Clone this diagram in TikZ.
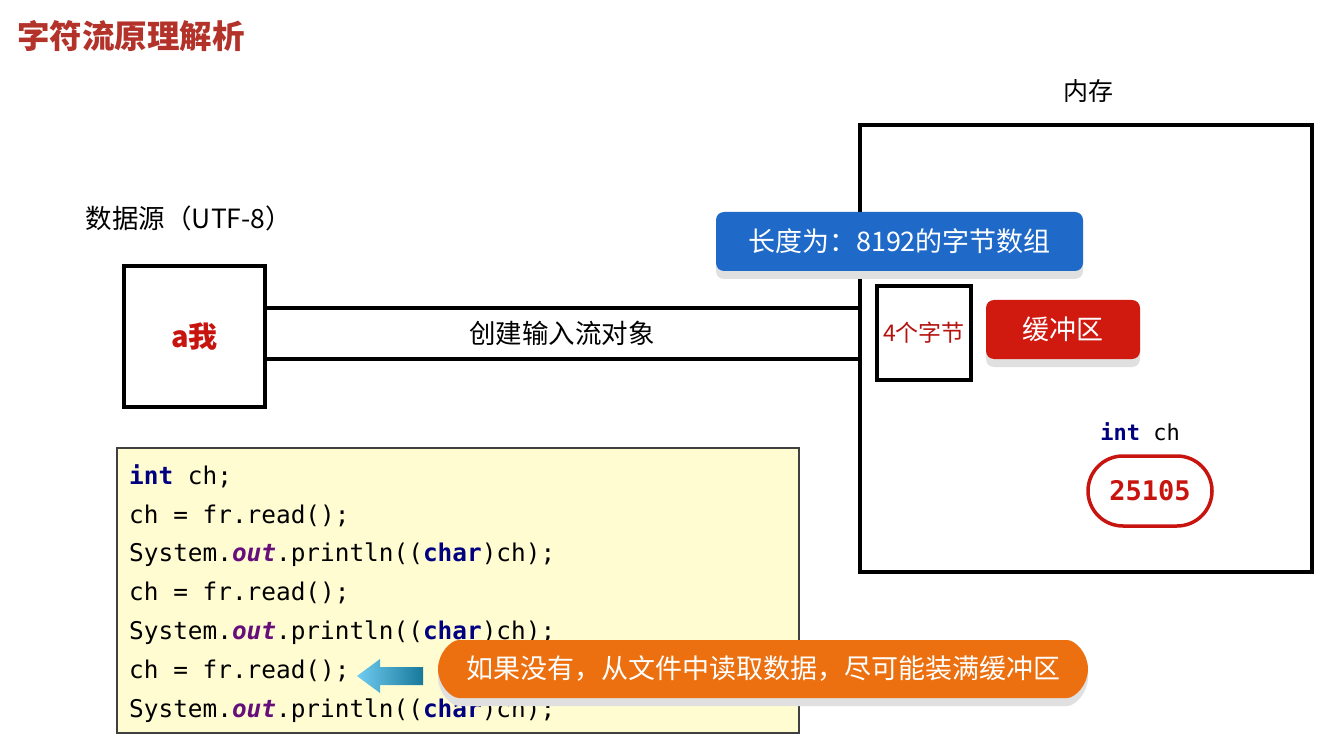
\documentclass[tikz,border=0pt]{standalone}
\usepackage{fontspec}
\setmainfont{Noto Sans CJK SC}
\setmonofont{DejaVu Sans Mono}
\usetikzlibrary{positioning,shapes.misc,shadows}

\definecolor{titlered}{HTML}{B3322A}
\definecolor{textred}{HTML}{C8140F}
\definecolor{tagblue}{HTML}{1F69C8}
\definecolor{tagred}{HTML}{D01A10}
\definecolor{tagorange}{HTML}{EC7010}
\definecolor{codeyellow}{HTML}{FFFCD2}
\definecolor{kwblue}{HTML}{000080}
\definecolor{fldpurple}{HTML}{660E7A}
\definecolor{arrowlight}{HTML}{70CCF0}
\definecolor{arrowdark}{HTML}{17789A}

\newcommand{\kw}[1]{\textcolor{kwblue}{\textbf{#1}}}
\newcommand{\fld}[1]{\textcolor{fldpurple}{\textbf{\textit{#1}}}}

\begin{document}
\begin{tikzpicture}[
    x=1pt, y=-1pt,
    plainbox/.style={draw=black, line width=3.5pt, fill=white, inner sep=0pt},
    tagbox/.style={rounded corners=8pt, text=white, inner sep=0pt, font=\fontsize{27}{31}\selectfont,
        drop shadow={shadow xshift=0pt, shadow yshift=-8pt, fill=black!12, opacity=1}},
    codeline/.style={anchor=base west, inner sep=0pt, font=\ttfamily\fontsize{24.4}{28}\selectfont},
    label/.style={inner sep=0pt, font=\fontsize{26.5}{30}\selectfont}
]
    \useasboundingbox[fill=white] (0,0) rectangle (1336,735);

    % --- TITLE ---
    \node[anchor=west, inner sep=0pt, font=\bfseries\fontsize{32.5}{36}\selectfont, text=titlered] (title) at (17,36) {字符流原理解析};

    % --- DATA SOURCE ---
    \node[label] (srclabel) at (189,218) {数据源（UTF-8）};
    \node[plainbox, minimum width=141pt, minimum height=141pt] (src) at (194.5,336.5)
        {\textcolor{textred}{\bfseries\fontsize{29}{32}\selectfont a我}};

    % --- MEMORY ---
    \node[label, font=\fontsize{25}{30}\selectfont] (memlabel) at (1088,91) {内存};
    \node[plainbox, minimum width=452pt, minimum height=447pt] (mem) at (1086,348.5) {};

    % --- INPUT STREAM ---
    \node[label, minimum height=51pt] (pipe) at (562,333.5) {创建输入流对象};
    \draw[line width=3.5pt] (pipe.north -| src.east) -- (pipe.north -| mem.west);
    \draw[line width=3.5pt] (pipe.south -| src.east) -- (pipe.south -| mem.west);

    % --- BUFFER ---
    \node[tagbox, fill=tagblue, minimum width=367pt, minimum height=59pt] (bytearr) at (899.5,241.5) {长度为：8192的字节数组};
    \node[plainbox, minimum width=94pt, minimum height=94pt, font=\fontsize{23}{28}\selectfont, text=textred!90!black] (fourbytes) at (924,333) {4个字节};
    \node[tagbox, fill=tagred, minimum width=154pt, minimum height=59pt] (buffer) at (1063,329.5) {缓冲区};

    % --- VARIABLE ---
    \node[inner sep=0pt, font=\ttfamily\fontsize{22}{26}\selectfont] (chlabel) at (1140,432) {\kw{int} ch};
    \node[rounded rectangle, draw=textred, line width=3.5pt, minimum width=124pt, minimum height=70pt, inner sep=0pt,
        text=textred, font=\ttfamily\bfseries\fontsize{27}{30}\selectfont] (chval) at (1150,491) {25105};

    % --- CODE ---
    \node[draw=black!75, line width=1.5pt, fill=codeyellow, minimum width=682pt, minimum height=285pt] (code) at (458,590.5) {};
    \node[codeline] (l1) at (129,484) {\kw{int} ch;};
    \node[codeline] (l2) at (129,523) {ch = fr.read();};
    \node[codeline] (l3) at (129,561) {System.\fld{out}.println((\kw{char})ch);};
    \node[codeline] (l4) at (129,600) {ch = fr.read();};
    \node[codeline] (l5) at (129,639) {System.\fld{out}.println((\kw{char})ch);};
    \node[codeline] (l6) at (129,678) {ch = fr.read();};
    \node[codeline] (l7) at (129,717) {System.\fld{out}.println((\kw{char})ch);};

    % --- HINT ---
    \shade[left color=arrowlight, right color=arrowdark]
        (357,676) -- (380,659) -- (380,667) -- (423,667) -- (423,685) -- (380,685) -- (380,693) -- cycle;
    \node[tagbox, rounded rectangle, fill=tagorange, minimum width=650pt, minimum height=58pt] (hint) at (763,669)
        {如果没有，从文件中读取数据，尽可能装满缓冲区};
\end{tikzpicture}
\end{document}
